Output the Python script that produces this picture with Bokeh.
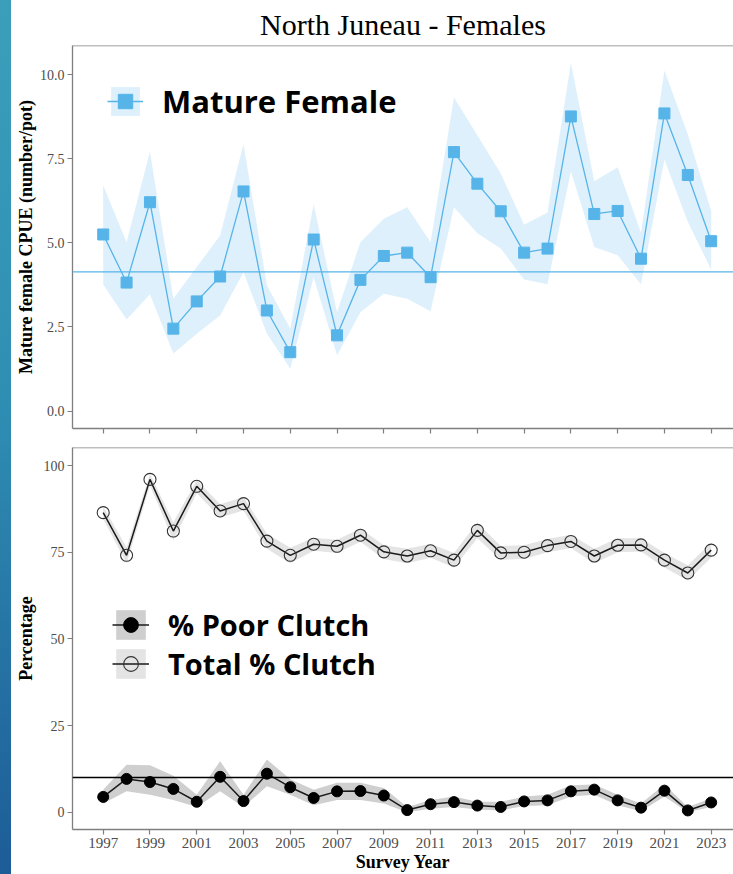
from bokeh.plotting import figure
from bokeh.layouts import column, row
from bokeh.models import FixedTicker, Span, Legend, LegendItem, Range1d, NumeralTickFormatter, Div
from bokeh.embed import file_html
from bokeh.resources import INLINE

years = list(range(1997, 2024))

cpue = [5.25, 3.82, 6.21, 2.45, 3.26, 4.00, 6.53, 2.99, 1.75, 5.10, 2.25, 3.90, 4.61,
        4.71, 3.98, 7.70, 6.76, 5.94, 4.71, 4.83, 8.76, 5.86, 5.95, 4.53, 8.85, 7.02, 5.05]
cpue_lo = [3.76, 2.72, 3.47, 1.71, 2.30, 2.84, 4.13, 2.30, 1.26, 3.98, 1.66, 2.94, 3.49,
           3.34, 2.97, 6.06, 5.29, 4.83, 3.91, 3.77, 7.13, 4.88, 4.63, 3.77, 7.48, 5.63, 4.20]
cpue_hi = [6.71, 5.02, 7.72, 3.34, 4.28, 5.22, 7.93, 3.74, 2.45, 6.14, 2.94, 5.02, 5.72,
           6.06, 5.02, 9.32, 8.20, 7.06, 5.54, 5.90, 10.35, 6.83, 7.25, 5.30, 10.13, 8.22, 5.95]
cpue_ref = 4.14

total_pct = [86.4, 74.1, 96.0, 81.1, 94.0, 86.9, 89.0, 78.2, 74.1, 77.3, 76.7, 79.9, 75.1,
             73.9, 75.4, 72.7, 81.3, 74.8, 75.0, 76.9, 78.1, 73.9, 77.0, 77.1, 72.7, 69.0, 75.6]
total_lo = [84.6, 71.8, 94.2, 78.4, 92.0, 85.0, 87.0, 76.0, 71.8, 75.4, 74.8, 78.0, 73.0,
            71.8, 73.4, 70.6, 79.0, 72.8, 73.0, 75.0, 76.2, 71.8, 75.0, 75.2, 70.6, 66.8, 73.5]
total_hi = [88.2, 76.4, 97.6, 83.6, 95.8, 88.8, 90.9, 80.3, 76.3, 79.2, 78.6, 81.8, 77.0,
            76.0, 77.4, 74.8, 83.5, 76.8, 77.0, 78.8, 80.0, 76.0, 79.0, 79.0, 74.8, 71.2, 77.7]

poor_pct = [4.4, 9.6, 8.7, 6.7, 3.0, 10.2, 3.2, 11.1, 7.2, 4.1, 6.0, 6.1, 4.8,
            0.6, 2.3, 2.9, 1.9, 1.5, 3.1, 3.4, 6.0, 6.5, 3.4, 1.3, 6.2, 0.5, 2.8]
poor_lo = [2.5, 6.0, 5.0, 3.5, 1.5, 6.0, 1.5, 7.5, 5.0, 2.0, 3.5, 3.5, 2.5,
           0.0, 1.0, 1.5, 0.8, 0.5, 1.8, 2.0, 4.5, 5.0, 2.0, 0.3, 4.5, 0.0, 1.5]
poor_hi = [6.5, 13.7, 13.5, 10.5, 5.0, 14.7, 5.0, 15.2, 9.5, 6.5, 8.5, 8.5, 7.0,
           1.5, 3.5, 4.5, 3.0, 3.0, 4.5, 5.0, 7.8, 8.0, 5.0, 2.5, 8.0, 1.5, 4.0]
poor_ref = 10.0

x_ticks = list(range(1997, 2024, 2))
cpue_ticks = [0, 2.5, 5, 7.5, 10]
pct_ticks = [0, 25, 50, 75, 100]

title_text = "North Juneau - Females"
cpue_label = "Mature female CPUE (number/pot)"
pct_label = "Percentage"
year_label = "Survey Year"

SERIF = "Liberation Serif"
SANS = "Open Sans"
GRAY = "#7f7f7f"
BLUE = "#56B4E9"
X_START, X_END = 1995.687, 2023.954


def style(p, yticks, hide_x):
    p.grid.grid_line_color = None
    p.outline_line_color = None
    p.background_fill_color = "white"
    p.border_fill_color = "white"
    for ax in p.xaxis + p.yaxis:
        ax.axis_line_color = GRAY
        ax.axis_line_width = 1.3
        ax.major_tick_line_color = GRAY
        ax.major_tick_line_width = 1.2
        ax.major_tick_in = 0
        ax.major_tick_out = 5
        ax.minor_tick_line_color = None
        ax.major_label_text_font = SERIF
        ax.major_label_text_color = "#4d4d4d"
        ax.axis_label_text_font = SERIF
        ax.axis_label_text_font_size = "18px"
        ax.axis_label_text_font_style = "bold"
        ax.axis_label_text_color = "black"
    p.yaxis.major_label_text_font_size = "14px"
    p.xaxis.major_label_text_font_size = "15px"
    p.xaxis.ticker = FixedTicker(ticks=x_ticks)
    p.yaxis.ticker = FixedTicker(ticks=yticks)
    p.yaxis.major_label_standoff = 3
    if hide_x:
        p.xaxis.major_label_overrides = {t: "" for t in x_ticks}
        p.xaxis.major_label_text_font_size = "0px"
        p.xaxis.major_label_standoff = 0
    else:
        p.xaxis.major_label_standoff = 3
        p.xaxis.axis_label_standoff = 1
    p.add_layout(Span(location=p.y_range.end, dimension="width",
                      line_color=GRAY, line_width=1.5))


# ---------------- top panel ----------------
p1 = figure(width=722, height=438, output_backend="svg", toolbar_location=None,
            x_range=Range1d(X_START, X_END), y_range=Range1d(-0.52, 10.87),
            min_border_left=61, min_border_right=0, min_border_top=0, min_border_bottom=10,
            title=title_text)
p1.title.text_font = SERIF
p1.title.text_font_size = "30px"
p1.title.text_font_style = "normal"
p1.title.text_color = "black"
p1.title.align = "center"
p1.title.offset = 4
p1.title.standoff = 10

b1 = p1.varea(x=years, y1=cpue_lo, y2=cpue_hi, fill_color=BLUE, fill_alpha=0.2)
p1.add_layout(Span(location=cpue_ref, dimension="width", line_color=BLUE, line_width=1.2))
l1 = p1.line(years, cpue, line_color=BLUE, line_width=1.3)
s1 = p1.scatter(years, cpue, marker="square", size=11, fill_color=BLUE, line_color=BLUE)
p1.yaxis.axis_label = cpue_label
p1.yaxis.formatter = NumeralTickFormatter(format="0.0")
p1.yaxis.axis_label_standoff = 1
style(p1, cpue_ticks, True)

leg1 = Legend(items=[LegendItem(label="Mature Female", renderers=[b1, l1, s1])],
              location=(35, 306), margin=0, padding=6, glyph_width=36, glyph_height=36,
              label_standoff=19, border_line_color=None, background_fill_alpha=0,
              label_text_font=SANS, label_text_font_size="31px", label_text_font_style="bold",
              label_text_color="black")
p1.add_layout(leg1)

# ---------------- bottom panel ----------------
p2 = figure(width=722, height=436, output_backend="svg", toolbar_location=None,
            x_range=Range1d(X_START, X_END), y_range=Range1d(-5.0, 105.2),
            min_border_left=61, min_border_right=0, min_border_top=9, min_border_bottom=44)
b_poor = p2.varea(x=years, y1=poor_lo, y2=poor_hi, fill_color="#cfcfcf", fill_alpha=1.0)
b_tot = p2.varea(x=years, y1=total_lo, y2=total_hi, fill_color="#e4e4e4", fill_alpha=1.0)
p2.add_layout(Span(location=poor_ref, dimension="width", line_color="black", line_width=1.3))
l_poor = p2.line(years, poor_pct, line_color="#1a1a1a", line_width=1.5)
s_poor = p2.scatter(years, poor_pct, marker="circle", size=11, fill_color="black", line_color="black")
l_tot = p2.line(years, total_pct, line_color="#1a1a1a", line_width=1.5)
s_tot = p2.scatter(years, total_pct, marker="circle", size=12, fill_color=None,
                   line_color="#333333", line_width=1.1)
p2.yaxis.axis_label = pct_label
p2.yaxis.axis_label_standoff = 5
p2.xaxis.axis_label = year_label
style(p2, pct_ticks, False)

leg2 = Legend(items=[LegendItem(label="% Poor Clutch", renderers=[b_poor, l_poor, s_poor]),
                    LegendItem(label="Total % Clutch", renderers=[b_tot, l_tot, s_tot])],
              location=(40, 146), margin=0, padding=6, glyph_width=37, glyph_height=37,
              spacing=0, label_standoff=19, border_line_color=None, background_fill_alpha=0,
              label_text_font=SANS, label_text_font_size="29px", label_text_font_style="bold",
              label_text_color="black")
p2.add_layout(leg2)

strip = Div(width=11, height=874, margin=0,
            styles={"background": "linear-gradient(to bottom, #3b9fbb 0%, #2f8fb3 45%, #1d5c97 100%)"})

layout = row(strip, column(p1, p2, spacing=0), spacing=0)
open("out.html", "w").write(file_html(layout, INLINE))
